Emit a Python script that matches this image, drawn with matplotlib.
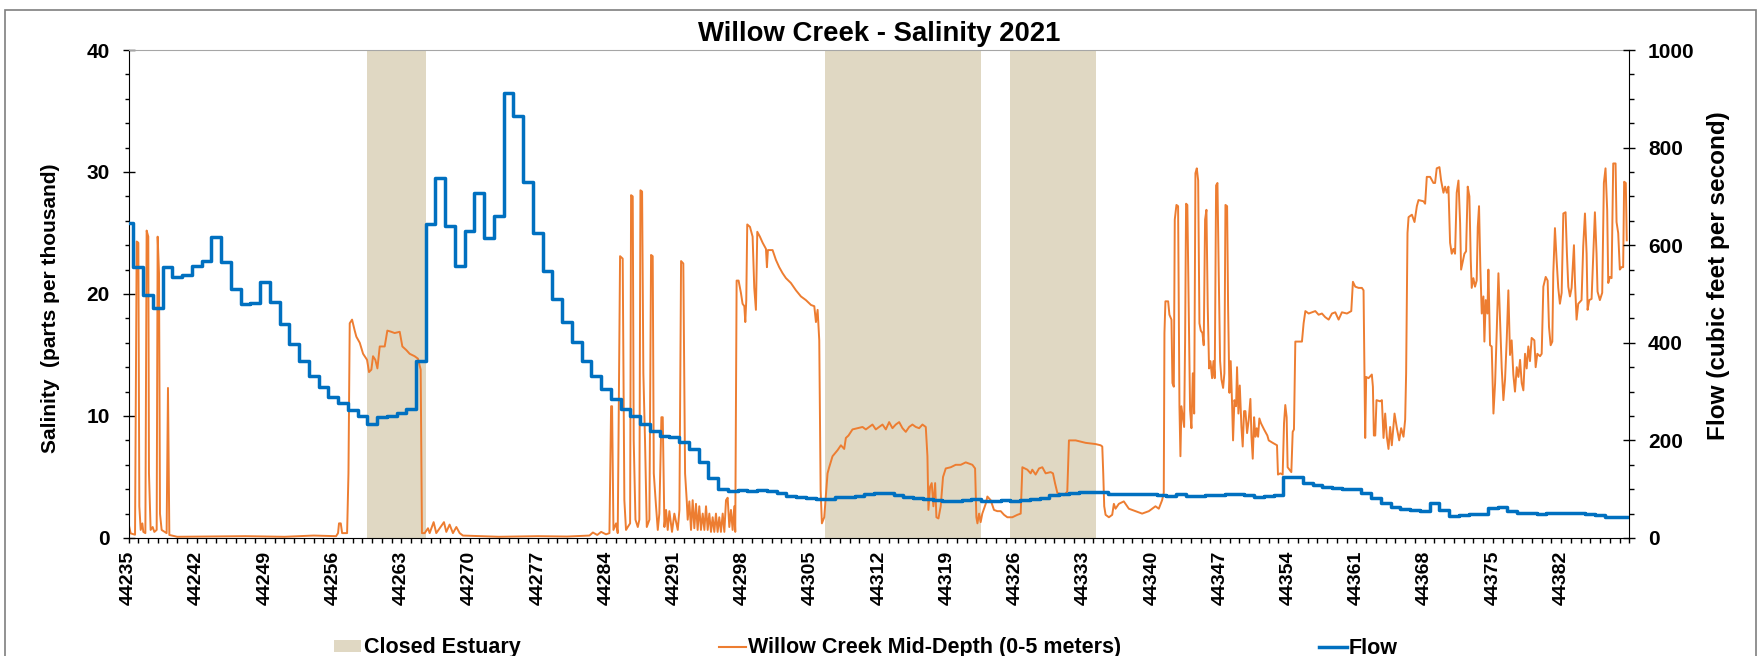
import numpy as np
import matplotlib
matplotlib.use("Agg")
import matplotlib.pyplot as plt
from matplotlib.patches import Rectangle, Patch
from matplotlib.lines import Line2D
from matplotlib.ticker import MultipleLocator

plt.rcParams['font.family'] = ['Liberation Sans', 'DejaVu Sans']
plt.rcParams['font.weight'] = 'bold'

START = 44235
END = 44389

# closed estuary periods (Excel date serials)
closed_start = [44259.45, 44306.45, 44325.45]
closed_end = [44265.5, 44322.5, 44334.25]

# daily flow (cfs), one value per day from 44235
flow_cfs = [646, 556, 498, 472, 556, 534, 539, 557, 568, 617,
            566, 511, 479, 482, 525, 484, 439, 397, 362, 331,
            309, 288, 276, 262, 249, 234, 247, 250, 257, 264,
            363, 643, 738, 639, 557, 630, 706, 615, 660, 911,
            865, 730, 624, 548, 490, 443, 402, 363, 331, 305,
            285, 265, 249, 234, 220, 210, 206, 197, 183, 156,
            123, 100, 96, 98, 97, 98, 97, 93, 87, 83,
            81, 80, 80, 83, 85, 87, 90, 93, 93, 88,
            85, 81, 79, 77, 75, 76, 78, 79, 76, 75,
            77, 76, 78, 79, 81, 88, 91, 93, 94, 94,
            94, 91, 90, 90, 90, 90, 88, 87, 90, 86,
            86, 88, 88, 90, 90, 88, 85, 86, 88, 124,
            124, 112, 109, 105, 102, 101, 100, 93, 81, 72,
            64, 60, 58, 56, 71, 57, 46, 47, 49, 49,
            61, 64, 56, 52, 51, 49, 51, 52, 52, 52,
            49, 48, 44, 44, 44]

# mid-depth salinity (ppt): (days after 44235, value)
salinity_pts = [
    (0.0, 1.2), (0.22, 0.38), (0.67, 0.27), (0.84, 24.3), (1.01, 24.2), (1.11, 2.6),
    (1.25, 0.66), (1.42, 1.2), (1.52, 0.5), (1.73, 0.4), (1.86, 25.2), (2.03, 24.7),
    (2.10, 5.3), (2.27, 0.66), (2.48, 0.9), (2.65, 0.5), (2.89, 0.66), (2.99, 24.7),
    (3.13, 21.7), (3.23, 2.0), (3.40, 0.66), (3.91, 0.4), (4.05, 12.3), (4.19, 0.25),
    (5, 0.1), (8, 0.12), (12, 0.15), (16, 0.1), (19, 0.2), (21.3, 0.15),
    (21.5, 0.4), (21.6, 1.2), (21.78, 1.2), (21.92, 0.4), (22.43, 0.4), (22.57, 5.3),
    (22.70, 17.6), (22.94, 17.9), (23.21, 17.0), (23.38, 16.5), (23.73, 16.0), (24.07, 15.1),
    (24.48, 14.6), (24.68, 13.6), (24.92, 13.8), (25.09, 14.9), (25.33, 14.6), (25.54, 13.9),
    (25.78, 15.7), (26.29, 15.7), (26.56, 17.0), (26.97, 16.9), (27.31, 16.8), (27.83, 16.9),
    (28.10, 15.7), (28.51, 15.4), (28.85, 15.1), (29.36, 14.9), (29.70, 14.7), (29.98, 13.8),
    (30.11, 0.4), (30.39, 0.4), (30.73, 0.8), (30.90, 0.4), (31.31, 1.3), (31.58, 0.4),
    (32.37, 1.3), (32.61, 0.5), (32.95, 1.1), (33.29, 0.4), (33.64, 0.9), (33.98, 0.4),
    (34.32, 0.2), (38, 0.1), (42, 0.15), (45, 0.12), (47.3, 0.2), (47.65, 0.45),
    (48.1, 0.25), (48.5, 0.5), (49.0, 0.3), (49.35, 0.4), (49.52, 10.8), (49.62, 10.8),
    (49.76, 0.66), (50.03, 1.2), (50.2, 0.4), (50.44, 23.1), (50.71, 22.9), (50.88, 3.1),
    (51.05, 0.66), (51.23, 0.9), (51.47, 1.2), (51.57, 28.1), (51.74, 28.0), (51.84, 8.0),
    (52.02, 1.5), (52.26, 0.9), (52.42, 1.5), (52.53, 28.5), (52.70, 28.4), (52.83, 13.5),
    (53.0, 8.0), (53.18, 0.9), (53.45, 1.5), (53.62, 23.2), (53.79, 23.1), (53.90, 5.3),
    (54.13, 2.6), (54.31, 0.66), (54.47, 2.0), (54.68, 9.9), (54.82, 9.9), (54.99, 0.9),
    (55.16, 2.3), (55.33, 0.66), (55.50, 2.2), (55.77, 0.5), (56.01, 2.0), (56.36, 0.66),
    (56.53, 2.3), (56.70, 22.7), (56.93, 22.5), (57.11, 5.3), (57.28, 3.1), (57.38, 1.5),
    (57.55, 3.0), (57.72, 0.66), (57.89, 3.1), (58.06, 0.8), (58.23, 2.8), (58.40, 0.66),
    (58.57, 2.6), (58.74, 0.66), (58.92, 2.0), (59.09, 0.66), (59.26, 2.6), (59.43, 0.66),
    (59.60, 2.0), (59.77, 0.5), (59.94, 1.7), (60.11, 0.5), (60.28, 2.0), (60.45, 0.5),
    (60.62, 1.7), (60.79, 0.5), (60.97, 2.0), (61.14, 0.5), (61.31, 3.1), (61.48, 3.3),
    (61.65, 0.9), (61.82, 2.3), (61.99, 0.66), (62.16, 2.6), (62.26, 0.5), (62.40, 21.1),
    (62.60, 21.1), (62.84, 20.1), (63.01, 19.2), (63.19, 19.0), (63.29, 17.7), (63.39, 19.5),
    (63.49, 25.7), (63.77, 25.5), (64.04, 24.7), (64.21, 20.5), (64.38, 18.7), (64.52, 25.1),
    (64.79, 24.7), (65.07, 24.2), (65.41, 23.7), (65.51, 22.2), (65.61, 23.6), (66.09, 23.6),
    (66.43, 22.8), (66.77, 22.2), (67.12, 21.7), (67.46, 21.3), (67.97, 20.9), (68.49, 20.3),
    (69.0, 19.8), (69.51, 19.5), (70.03, 19.1), (70.37, 19.0), (70.54, 17.7), (70.71, 18.7),
    (70.88, 16.2), (71.02, 3.9), (71.15, 1.2), (71.39, 1.7), (71.73, 5.3), (71.90, 5.8),
    (72.24, 6.7), (72.76, 7.2), (73.10, 7.6), (73.44, 7.3), (73.61, 8.2), (73.88, 8.4),
    (74.29, 8.9), (74.81, 9.0), (75.32, 9.1), (75.66, 8.9), (76.00, 9.1), (76.34, 9.3),
    (76.68, 8.9), (77.02, 9.1), (77.37, 9.3), (77.71, 8.9), (78.05, 9.5), (78.39, 9.0),
    (78.73, 9.3), (79.08, 9.5), (79.42, 9.0), (79.76, 8.7), (80.10, 9.1), (80.44, 9.3),
    (80.79, 9.1), (81.13, 9.0), (81.47, 9.3), (81.81, 9.1), (81.98, 6.7), (82.08, 2.3),
    (82.25, 4.2), (82.42, 4.5), (82.59, 2.6), (82.77, 4.5), (82.90, 1.7), (83.11, 1.6),
    (83.34, 2.6), (83.58, 5.0), (83.86, 5.7), (84.37, 5.8), (84.88, 6.0), (85.40, 6.0),
    (85.91, 6.2), (86.25, 6.1), (86.59, 6.0), (86.87, 5.7), (87.0, 1.7), (87.11, 1.2),
    (87.28, 2.0), (87.44, 1.3), (87.61, 2.0), (87.79, 2.4), (87.96, 2.8), (88.13, 3.4),
    (88.47, 3.1), (88.81, 2.3), (89.15, 2.2), (89.50, 2.2), (89.84, 1.9), (90.18, 1.7),
    (90.69, 1.7), (91.21, 1.9), (91.55, 2.0), (91.72, 5.8), (92.23, 5.6), (92.57, 5.3),
    (92.74, 5.6), (93.08, 5.2), (93.43, 5.7), (93.77, 5.8), (94.11, 5.3), (94.62, 5.4),
    (94.86, 5.3), (95.07, 4.5), (95.31, 3.7), (95.99, 3.5), (96.33, 3.8), (96.50, 8.0),
    (97.19, 8.0), (98.21, 7.8), (99.23, 7.7), (99.75, 7.6), (99.92, 7.5), (100.02, 5.3),
    (100.12, 2.6), (100.26, 1.9), (100.60, 1.7), (100.94, 1.9), (101.11, 2.8), (101.28, 2.4),
    (101.62, 2.8), (102.13, 3.0), (102.65, 2.4), (103.33, 2.2), (104.01, 2.0), (104.70, 2.2),
    (105.38, 2.6), (105.72, 2.4), (106.06, 3.1), (106.23, 3.7), (106.30, 16.8), (106.40, 19.4),
    (106.68, 19.4), (106.81, 18.3), (107.02, 17.9), (107.12, 12.7), (107.26, 12.4), (107.36, 26.1),
    (107.53, 27.3), (107.70, 27.2), (107.84, 10.8), (107.94, 6.7), (108.04, 10.8), (108.32, 9.1),
    (108.42, 16.2), (108.52, 27.4), (108.65, 27.3), (108.79, 19.0), (108.93, 10.5), (109.07, 9.0),
    (109.21, 13.5), (109.35, 10.2), (109.48, 29.9), (109.62, 30.3), (109.76, 29.3), (109.89, 17.6),
    (110.03, 17.0), (110.20, 16.8), (110.33, 15.8), (110.47, 26.1), (110.61, 26.9), (110.74, 19.0),
    (110.88, 13.9), (111.02, 14.5), (111.19, 13.1), (111.33, 14.5), (111.46, 13.1), (111.60, 28.9),
    (111.74, 29.1), (111.87, 21.7), (112.01, 14.5), (112.15, 13.0), (112.32, 12.3), (112.45, 13.5),
    (112.56, 27.3), (112.73, 27.2), (112.83, 19.0), (112.97, 11.9), (113.10, 14.5), (113.24, 11.0),
    (113.34, 8.0), (113.48, 11.3), (113.65, 10.8), (113.75, 14.0), (113.89, 10.2), (114.03, 12.5),
    (114.20, 9.1), (114.33, 7.5), (114.47, 10.4), (114.61, 10.4), (114.78, 8.6), (114.95, 9.7),
    (115.12, 11.4), (115.23, 8.3), (115.36, 6.5), (115.50, 9.9), (115.63, 8.3), (115.77, 9.0),
    (115.91, 8.3), (116.04, 9.8), (116.21, 9.4), (116.52, 8.9), (116.86, 8.4), (117.0, 8.0),
    (117.41, 7.8), (117.85, 7.6), (117.95, 5.2), (118.19, 5.3), (118.43, 5.2), (118.57, 9.4),
    (118.70, 10.9), (118.84, 9.9), (118.94, 5.8), (119.32, 5.4), (119.46, 8.7), (119.59, 8.9),
    (119.73, 16.1), (120.14, 16.1), (120.41, 16.1), (120.58, 17.6), (120.76, 18.6), (121.10, 18.4),
    (121.44, 18.5), (121.78, 18.6), (122.12, 18.3), (122.46, 18.4), (122.80, 18.1), (123.15, 17.9),
    (123.49, 18.4), (123.83, 18.5), (124.17, 17.9), (124.51, 18.5), (125.03, 18.4), (125.47, 18.6),
    (125.64, 21.0), (125.88, 20.6), (126.22, 20.5), (126.56, 20.5), (126.73, 20.3), (126.83, 13.5),
    (126.90, 8.2), (127.0, 13.2), (127.24, 13.1), (127.58, 13.4), (127.69, 12.4), (127.79, 8.4),
    (127.93, 8.4), (128.06, 11.3), (128.44, 11.2), (128.61, 11.3), (128.78, 8.2), (128.95, 10.2),
    (129.12, 8.3), (129.29, 7.3), (129.46, 9.1), (129.63, 7.6), (129.91, 10.2), (130.15, 9.0),
    (130.39, 8.0), (130.59, 9.0), (130.83, 8.3), (131.0, 9.7), (131.10, 13.5), (131.24, 25.0),
    (131.35, 26.3), (131.69, 26.5), (131.96, 25.9), (132.20, 27.2), (132.37, 27.7), (132.88, 27.6),
    (133.05, 27.4), (133.22, 29.6), (133.56, 29.6), (133.90, 29.1), (134.07, 29.1), (134.24, 30.3),
    (134.52, 30.4), (134.69, 29.3), (134.93, 28.3), (135.10, 28.8), (135.27, 28.3), (135.44, 28.8),
    (135.61, 24.2), (135.78, 23.3), (135.95, 23.7), (136.12, 23.3), (136.29, 28.3), (136.47, 29.3),
    (136.64, 25.8), (136.74, 22.0), (137.08, 23.3), (137.25, 23.5), (137.42, 28.8), (137.59, 28.0),
    (137.73, 22.8), (137.83, 20.5), (138.0, 21.3), (138.17, 20.6), (138.34, 21.1), (138.45, 25.5),
    (138.58, 27.2), (138.72, 22.0), (138.86, 18.4), (139.03, 19.8), (139.13, 16.1), (139.27, 19.5),
    (139.44, 18.4), (139.54, 22.0), (139.71, 15.8), (139.88, 15.7), (140.06, 10.2), (140.23, 12.7),
    (140.40, 17.0), (140.57, 21.7), (140.74, 17.9), (140.91, 13.9), (141.08, 11.3), (141.25, 13.0),
    (141.42, 16.2), (141.59, 20.3), (141.76, 15.0), (141.93, 16.2), (142.10, 13.4), (142.27, 12.0),
    (142.45, 14.0), (142.62, 13.2), (142.79, 14.6), (142.96, 12.7), (143.13, 12.1), (143.30, 15.1),
    (143.47, 13.9), (143.64, 15.7), (143.81, 14.5), (143.98, 16.4), (144.26, 16.2), (144.39, 14.0),
    (144.56, 15.1), (144.84, 14.9), (145.01, 15.1), (145.18, 20.6), (145.42, 21.4), (145.62, 21.1),
    (145.76, 17.3), (145.93, 15.8), (146.10, 16.1), (146.20, 21.7), (146.37, 25.4), (146.54, 22.8),
    (146.71, 20.5), (146.88, 19.2), (147.06, 20.1), (147.23, 26.6), (147.46, 26.7), (147.60, 23.3),
    (147.74, 20.6), (147.91, 19.8), (148.08, 20.5), (148.18, 22.0), (148.32, 24.0), (148.42, 21.1),
    (148.59, 17.9), (148.76, 19.2), (149.10, 19.5), (149.27, 23.9), (149.45, 26.6), (149.62, 23.3),
    (149.72, 18.7), (149.89, 19.5), (150.13, 19.6), (150.30, 23.1), (150.47, 26.7), (150.64, 23.3),
    (150.74, 20.2), (150.98, 19.5), (151.22, 20.1), (151.39, 29.1), (151.56, 30.3), (151.73, 26.9),
    (151.84, 20.9), (152.01, 21.4), (152.18, 21.3), (152.35, 30.7), (152.59, 30.7), (152.69, 25.9),
    (152.86, 25.0), (153.03, 22.0), (153.20, 22.2), (153.37, 22.2), (153.47, 29.2), (153.64, 29.1),
    (153.74, 24.4),
]

sal_day, sal_ppt = zip(*salinity_pts)
sal_x = START + np.array(sal_day)
flow_x = START + np.arange(len(flow_cfs))

tan = '#E0D8C3'
orange = '#ED7D31'
blue = '#0070C0'

fig = plt.figure(figsize=(17.64, 6.56), dpi=100)
ax = fig.add_axes([0.07285, 0.17988, 0.85079, 0.74390])

for s, e in zip(closed_start, closed_end):
    ax.axvspan(s, e, color=tan, lw=0, zorder=0)

ax.plot(sal_x, sal_ppt, color=orange, lw=1.4, zorder=2)

ax2 = ax.twinx()
ax2.plot(flow_x, flow_cfs, drawstyle='steps-mid', color=blue, lw=2.5, zorder=3)

ax.set_xlim(START, END)
ax.set_ylim(0, 40)
ax2.set_ylim(0, 1000)

xt = list(range(START, 44383, 7))
ax.set_xticks(xt, labels=[str(t) for t in xt])
ax.xaxis.set_minor_locator(MultipleLocator(1))
ax.set_yticks([0, 10, 20, 30, 40])
ax.yaxis.set_minor_locator(MultipleLocator(2))
ax2.set_yticks([0, 200, 400, 600, 800, 1000])
ax2.yaxis.set_minor_locator(MultipleLocator(50))

ax.tick_params(axis='x', which='both', direction='out', length=3.6, width=1)
ax.tick_params(axis='x', which='major', labelsize=14, labelrotation=90, pad=5.5)
ax.tick_params(axis='y', which='major', direction='inout', length=8.6, width=1,
               labelsize=15, pad=9.3)
ax.tick_params(axis='y', which='minor', direction='out', length=2.6, width=1)
ax2.tick_params(axis='y', which='major', direction='inout', length=8.6, width=1,
                labelsize=15, pad=9.2)
ax2.tick_params(axis='y', which='minor', direction='out', length=3.4, width=1)

ax.spines['top'].set_color('#A6A6A6')
ax.spines['right'].set_visible(False)
for side in ['left', 'top', 'bottom']:
    ax2.spines[side].set_visible(False)
ax2.spines['right'].set_color('black')

ax.set_title('Willow Creek - Salinity 2021', fontsize=19.8, fontweight='bold', pad=6.5)

fig.text(51 / 1764, 1 - 308 / 656, 'Salinity  (parts per thousand)', rotation=90,
         ha='center', va='center', fontsize=15, fontweight='bold')
fig.text(1718 / 1764, 1 - 276 / 656, 'Flow (cubic feet per second)', rotation=90,
         ha='center', va='center', fontsize=17.5, fontweight='bold')

handles = [Patch(facecolor=tan, edgecolor='none', label='Closed Estuary'),
           Line2D([], [], color=orange, lw=1.5, label='Willow Creek Mid-Depth (0-5 meters)'),
           Line2D([], [], color=blue, lw=2.5, label='Flow')]
fig.legend(handles=handles, loc='center left', bbox_to_anchor=(334 / 1764, 8 / 656),
           ncol=3, frameon=False, fontsize=15.5, handlelength=1.26, handletextpad=0.12,
           columnspacing=9.2, borderpad=0, borderaxespad=0, handleheight=0.5)

# chart area border
fig.add_artist(Rectangle((4.6 / 1764, -0.05), (1756 - 4.6) / 1764, 646 / 656 + 0.05,
                         transform=fig.transFigure, fill=False, edgecolor='#7F7F7F', lw=1.2))

fig.savefig('out.png', dpi=100)
